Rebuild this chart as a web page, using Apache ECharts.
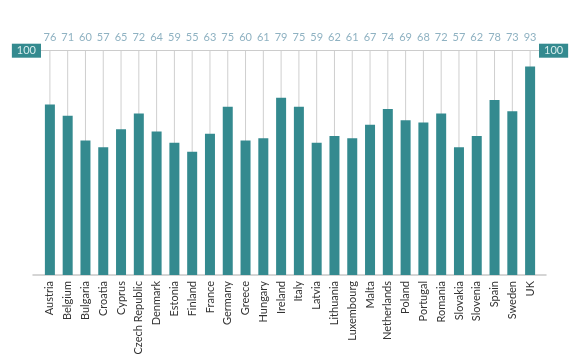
<!DOCTYPE html>
<html>
<head>
<meta charset="utf-8">
<script src="https://cdn.jsdelivr.net/npm/echarts@6/dist/echarts.min.js"></script>
<style>html,body{margin:0;padding:0;background:#fff}#c{width:585px;height:360px}</style>
</head>
<body>
<div id="c"></div>
<script>
const categories = ["Austria","Belgium","Bulgaria","Croatia","Cyprus","Czech Republic","Denmark","Estonia","Finland","France","Germany","Greece","Hungary","Ireland","Italy","Latvia","Lithuania","Luxembourg","Malta","Netherlands","Poland","Portugal","Romania","Slovakia","Slovenia","Spain","Sweden","UK"];
const values = [76,71,60,57,65,72,64,59,55,63,75,60,61,79,75,59,62,61,67,74,69,68,72,57,62,78,73,93];
const referenceLevel = 100;
const guideValues = categories.map(() => referenceLevel);

const teal = '#348a8f';
const chart = echarts.init(document.getElementById('c'));
chart.setOption({
  animation: false,
  textStyle: { fontFamily: 'Lato' },
  grid: [
    { left: 41, right: 46, top: 50.7, bottom: 85 },
    { left: 33, right: 39, top: 50.7, bottom: 85 }
  ],
  xAxis: [
    { type: 'category', data: categories, gridIndex: 0,
      axisLine: { show: false }, axisTick: { show: false },
      axisLabel: { rotate: 90, color: '#333', fontSize: 11, margin: 6, interval: 0, fontFamily: 'Lato' } },
    { type: 'category', data: categories, gridIndex: 0, show: false },
    { type: 'value', gridIndex: 1, min: 0, max: 1,
      axisLine: { show: true, lineStyle: { color: '#c8c8c8', width: 1.5 } },
      axisTick: { show: false }, axisLabel: { show: false }, splitLine: { show: false } }
  ],
  yAxis: [
    { type: 'value', gridIndex: 0, min: 0, max: 100, show: false },
    { type: 'value', gridIndex: 1, min: 0, max: 1, show: false }
  ],
  series: [
    { type: 'bar', xAxisIndex: 1, yAxisIndex: 0, data: guideValues, barWidth: 1, z: 1,
      itemStyle: { color: '#cfcfcf' },
      label: { show: true, position: 'top', distance: 8, color: '#8fb2c2', fontSize: 11,
        fontFamily: 'Lato', formatter: p => String(values[p.dataIndex]) } },
    { type: 'bar', xAxisIndex: 0, yAxisIndex: 0, data: values, barWidth: 10, z: 3,
      itemStyle: { color: teal },
      markLine: {
        silent: true, symbol: 'none',
        lineStyle: { color: '#cccccc', width: 1, type: 'solid' },
        label: { formatter: String(referenceLevel), color: '#d6ecec', backgroundColor: teal,
          padding: [2, 5, 1, 5], fontSize: 11, fontFamily: 'Lato', distance: 0 },
        data: [
          { yAxis: referenceLevel, label: { position: 'start' } },
          { yAxis: referenceLevel, label: { position: 'end' } }
        ]
      } }
  ]
});
</script>
</body>
</html>
